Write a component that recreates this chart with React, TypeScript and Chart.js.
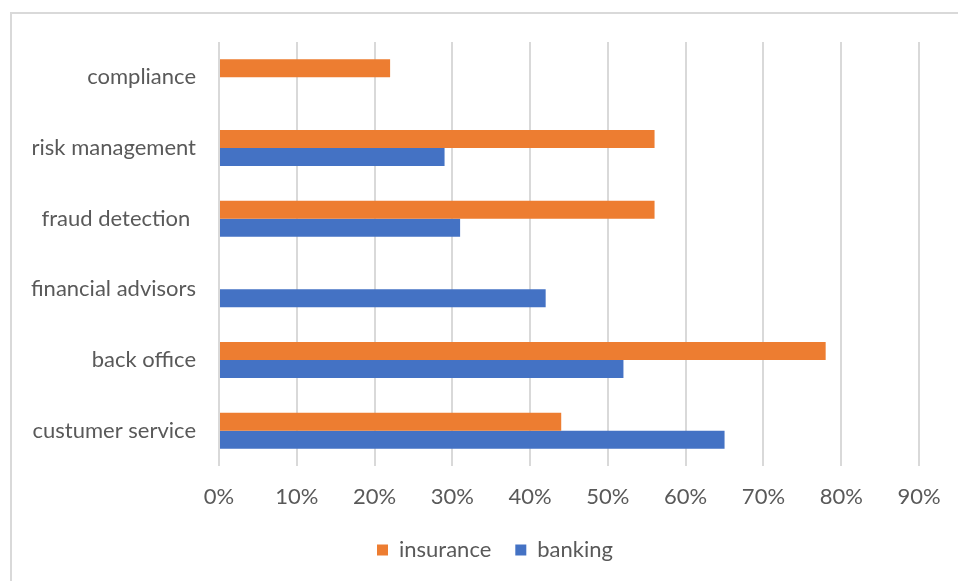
import React, { useEffect, useRef } from "react";
import { Chart, registerables } from "chart.js";

Chart.register(...registerables);

const categories = [
  "compliance",
  "risk management",
  "fraud detection ",
  "financial advisors",
  "back office",
  "custumer service",
];
const insurance: (number | null)[] = [22, 56, 56, null, 78, 44];
const banking: (number | null)[] = [null, 29, 31, 42, 52, 65];
const xTicks = [0, 10, 20, 30, 40, 50, 60, 70, 80, 90];

const FONT = "Lato, 'Open Sans', sans-serif";
const TEXT = "#595959";
const GRID = "#d9d9d9";

export default function App() {
  const ref = useRef<HTMLCanvasElement | null>(null);
  useEffect(() => {
    if (!ref.current) return;
    const chart = new Chart(ref.current, {
      type: "bar",
      data: {
        labels: categories,
        datasets: [
          { label: "insurance", data: insurance, backgroundColor: "#ED7D31", borderWidth: 0 },
          { label: "banking", data: banking, backgroundColor: "#4472C4", borderWidth: 0 },
        ],
      },
      options: {
        indexAxis: "y",
        responsive: false,
        animation: false,
        maintainAspectRatio: false,
        datasets: { bar: { categoryPercentage: 0.51, barPercentage: 1 } },
        layout: { padding: { left: 0, right: 0, top: 28, bottom: 33 } },
        plugins: {
          tooltip: { enabled: false },
          legend: {
            position: "bottom",
            labels: {
              boxWidth: 11,
              boxHeight: 11,
              padding: 24,
              color: TEXT,
              font: { family: FONT, size: 22 },
            },
          },
        },
        scales: {
          x: {
            min: 0,
            max: 90,
            afterBuildTicks: (scale: any) => {
              scale.ticks = xTicks.map((v) => ({ value: v }));
            },
            afterFit: (scale: any) => {
              scale.height = 49;
              scale.paddingRight = 59;
              scale.paddingLeft = 0;
            },
            grid: { color: GRID, lineWidth: 2, drawTicks: false },
            border: { display: false },
            ticks: {
              padding: 18,
              color: TEXT,
              font: { family: FONT, size: 22 },
              callback: (v: any) => v + "%",
            },
          },
          y: {
            afterFit: (scale: any) => {
              scale.width = 207;
              scale.paddingTop = 0;
              scale.paddingBottom = 0;
            },
            grid: { display: false, drawTicks: false },
            border: { display: false },
            ticks: {
              padding: 23,
              color: TEXT,
              font: { family: FONT, size: 22 },
            },
          },
        },
      },
    } as any);
    return () => chart.destroy();
  }, []);
  return (
    <div
      style={{
        position: "fixed",
        left: 0,
        top: 0,
        width: 958,
        height: 581,
        overflow: "hidden",
        background: "#fff",
      }}
    >
      <div
        style={{
          position: "absolute",
          left: 10,
          top: 12,
          width: 980,
          height: 600,
          borderLeft: `2px solid ${GRID}`,
          borderTop: `2px solid ${GRID}`,
          boxSizing: "border-box",
        }}
      >
        <canvas
          ref={ref}
          width={966}
          height={590}
          style={{ position: "absolute", left: 0, top: 0, width: 966, height: 590 }}
        />
      </div>
    </div>
  );
}
